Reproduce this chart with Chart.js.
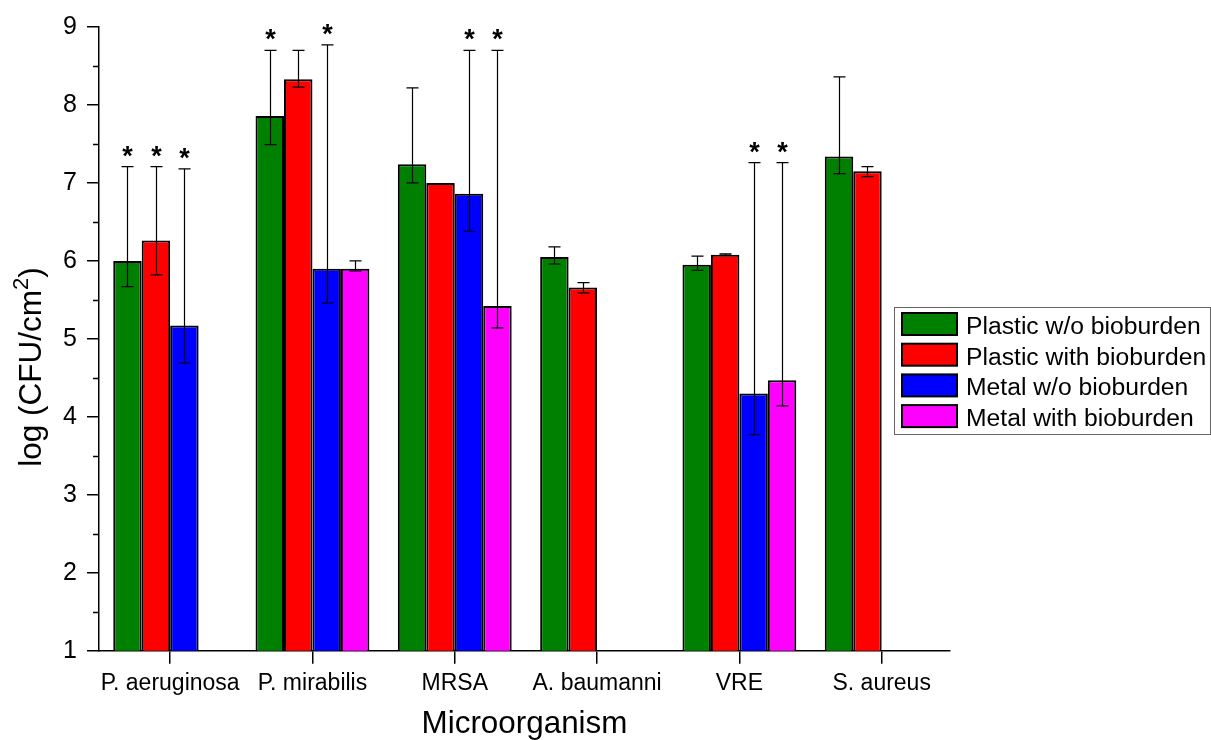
<!DOCTYPE html>
<html>
<head>
<meta charset="utf-8">
<title>log CFU by microorganism</title>
<script src="https://cdn.jsdelivr.net/npm/chart.js@4.4.1/dist/chart.umd.min.js"></script>
<style>
  html, body { margin: 0; padding: 0; background: #fff; }
  canvas { display: block; }
</style>
</head>
<body>
<canvas id="cfuChart" width="1211" height="740"></canvas>
<script>
const categories = ['P. aeruginosa', 'P. mirabilis', 'MRSA', 'A. baumanni', 'VRE', 'S. aureus'];
const seriesNames = ['Plastic w/o bioburden', 'Plastic with bioburden', 'Metal w/o bioburden', 'Metal with bioburden'];
const seriesColors = ['#008000', '#ff0000', '#0000ff', '#ff00ff'];

// bar heights
const plasticNoBio = [6.00, 7.86, 7.24, 6.05, 5.95, 7.34];
const plasticBio = [6.26, 8.33, 7.00, 5.66, 6.08, 7.15];
const metalNoBio = [5.17, 5.90, 6.86, null, 4.30, null];
const metalBio = [null, 5.90, 5.42, null, 4.47, null];

// error bar ends (upper / lower)
const plasticNoBioHigh = [7.21, 8.70, 8.22, 6.18, 6.06, 8.36];
const plasticNoBioLow = [5.67, 7.49, 7.00, 5.96, 5.88, 7.12];
const plasticBioHigh = [7.21, 8.70, null, 5.72, 6.09, 7.21];
const plasticBioLow = [5.82, 8.23, null, 5.59, 6.07, 7.08];
const metalNoBioHigh = [7.18, 8.77, 8.70, null, 7.26, null];
const metalNoBioLow = [4.69, 5.46, 6.38, null, 3.77, null];
const metalBioHigh = [null, 6.00, 8.70, null, 7.26, null];
const metalBioLow = [null, 5.87, 5.14, null, 4.14, null];

// significance stars
const plasticNoBioStar = [1, 1, 0, 0, 0, 0];
const plasticBioStar = [1, 0, 0, 0, 0, 0];
const metalNoBioStar = [1, 1, 1, 0, 1, 0];
const metalBioStar = [0, 0, 1, 0, 1, 0];

const yTicks = [1, 2, 3, 4, 5, 6, 7, 8, 9];

const values = [plasticNoBio, plasticBio, metalNoBio, metalBio];
const highs = [plasticNoBioHigh, plasticBioHigh, metalNoBioHigh, metalBioHigh];
const lows = [plasticNoBioLow, plasticBioLow, metalNoBioLow, metalBioLow];
const stars = [plasticNoBioStar, plasticBioStar, metalNoBioStar, metalBioStar];

const FONT = "'Liberation Sans', Arial, sans-serif";

const errorBars = {
  id: 'errorBars',
  afterDatasetsDraw(chart) {
    const ctx = chart.ctx;
    const y = chart.scales.y;
    ctx.save();
    ctx.strokeStyle = '#000';
    ctx.lineWidth = 1.2;
    ctx.fillStyle = '#000';
    ctx.font = 'bold 27px ' + FONT;
    ctx.textAlign = 'center';
    ctx.textBaseline = 'alphabetic';
    values.forEach((vals, d) => {
      const meta = chart.getDatasetMeta(d);
      vals.forEach((v, i) => {
        if (v === null) return;
        const cx = Math.round(meta.data[i].x) + 0.5;
        const hi = highs[d][i], lo = lows[d][i];
        if (hi !== null) {
          const yh = y.getPixelForValue(hi);
          const yl = y.getPixelForValue(lo);
          ctx.beginPath();
          ctx.moveTo(cx, yh); ctx.lineTo(cx, yl);
          ctx.moveTo(cx - 6, yh); ctx.lineTo(cx + 6, yh);
          ctx.moveTo(cx - 6, yl); ctx.lineTo(cx + 6, yl);
          ctx.stroke();
          if (stars[d][i]) ctx.fillText('*', cx, yh - 2);
        }
      });
    });
    ctx.restore();
  }
};

const extras = {
  id: 'extras',
  afterDraw(chart) {
    const ctx = chart.ctx;
    const y = chart.scales.y;
    ctx.save();
    // minor ticks on the y axis
    ctx.strokeStyle = '#000';
    ctx.lineWidth = 1.5;
    ctx.beginPath();
    for (let k = 0; k < yTicks.length - 1; k++) {
      const py = Math.round(y.getPixelForValue(yTicks[k] + 0.5)) + 0.5;
      ctx.moveTo(y.right - 6, py); ctx.lineTo(y.right, py);
    }
    ctx.stroke();

    // y axis title with superscript
    ctx.translate(41, 367);
    ctx.rotate(-Math.PI / 2);
    ctx.fillStyle = '#000';
    ctx.textBaseline = 'alphabetic';
    ctx.textAlign = 'left';
    const main = 'log (CFU/cm';
    ctx.font = '31.5px ' + FONT;
    const w1 = ctx.measureText(main).width;
    const w3 = ctx.measureText(')').width;
    ctx.font = '22px ' + FONT;
    const w2 = ctx.measureText('2').width;
    let x0 = -(w1 + w2 + w3) / 2;
    ctx.font = '31.5px ' + FONT;
    ctx.fillText(main, x0, 0);
    ctx.font = '22px ' + FONT;
    ctx.fillText('2', x0 + w1, -13);
    ctx.font = '31.5px ' + FONT;
    ctx.fillText(')', x0 + w1 + w2, 0);
    ctx.restore();

    // legend
    ctx.save();
    ctx.strokeStyle = '#666';
    ctx.lineWidth = 1;
    ctx.fillStyle = '#fff';
    ctx.fillRect(894, 307, 316, 127);
    ctx.strokeRect(894.5, 307.5, 316, 127);
    ctx.font = '24.7px ' + FONT;
    ctx.textBaseline = 'alphabetic';
    ctx.textAlign = 'left';
    seriesNames.forEach((name, k) => {
      const top = 313 + k * 30.7;
      ctx.fillStyle = seriesColors[k];
      ctx.fillRect(902, top, 55, 22);
      ctx.strokeStyle = '#000';
      ctx.lineWidth = 2;
      ctx.strokeRect(902, top, 55, 22);
      ctx.fillStyle = '#000';
      ctx.fillText(name, 966, top + 21);
    });
    ctx.restore();
  }
};

new Chart(document.getElementById('cfuChart'), {
  type: 'bar',
  data: {
    datasets: values.map((vals, d) => ({
      label: seriesNames[d],
      data: vals.map((v, i) => ({ x: i, y: v })),
      backgroundColor: seriesColors[d],
      borderColor: '#000',
      borderWidth: 2,
      categoryPercentage: 0.8,
      barPercentage: 1.0
    }))
  },
  options: {
    responsive: false,
    animation: false,
    layout: { padding: { top: 27, right: 261, left: 0, bottom: 0 } },
    plugins: {
      legend: { display: false },
      tooltip: { enabled: false }
    },
    scales: {
      x: {
        type: 'linear',
        offset: false,
        min: -0.5,
        max: 5.48,
        afterBuildTicks: (scale) => { scale.ticks = categories.map((c, i) => ({ value: i })); },
        afterFit: (scale) => { scale.height = 89.3; },
        ticks: {
          autoSkip: false,
          maxRotation: 0,
          padding: 6,
          color: '#000',
          font: { family: FONT, size: 23 },
          callback: (v) => categories[v]
        },
        grid: { offset: false, drawOnChartArea: false, color: '#000', tickLength: 13, lineWidth: 1.5 },
        border: { display: true, color: '#000', width: 1.5 },
        title: {
          display: true,
          text: 'Microorganism',
          color: '#000',
          font: { family: FONT, size: 31.4, lineHeight: 1.0 },
          padding: { top: 0, bottom: 0 }
        }
      },
      y: {
        min: 1,
        max: 9,
        afterFit: (scale) => { scale.width = 99; },
        afterBuildTicks: (scale) => { scale.ticks = yTicks.map(v => ({ value: v })); },
        ticks: {
          padding: 10,
          color: '#000',
          font: { family: FONT, size: 25 }
        },
        grid: { drawOnChartArea: false, color: '#000', tickLength: 12, lineWidth: 1.5 },
        border: { display: true, color: '#000', width: 1.5 }
      }
    }
  },
  plugins: [errorBars, extras]
});
</script>
</body>
</html>
